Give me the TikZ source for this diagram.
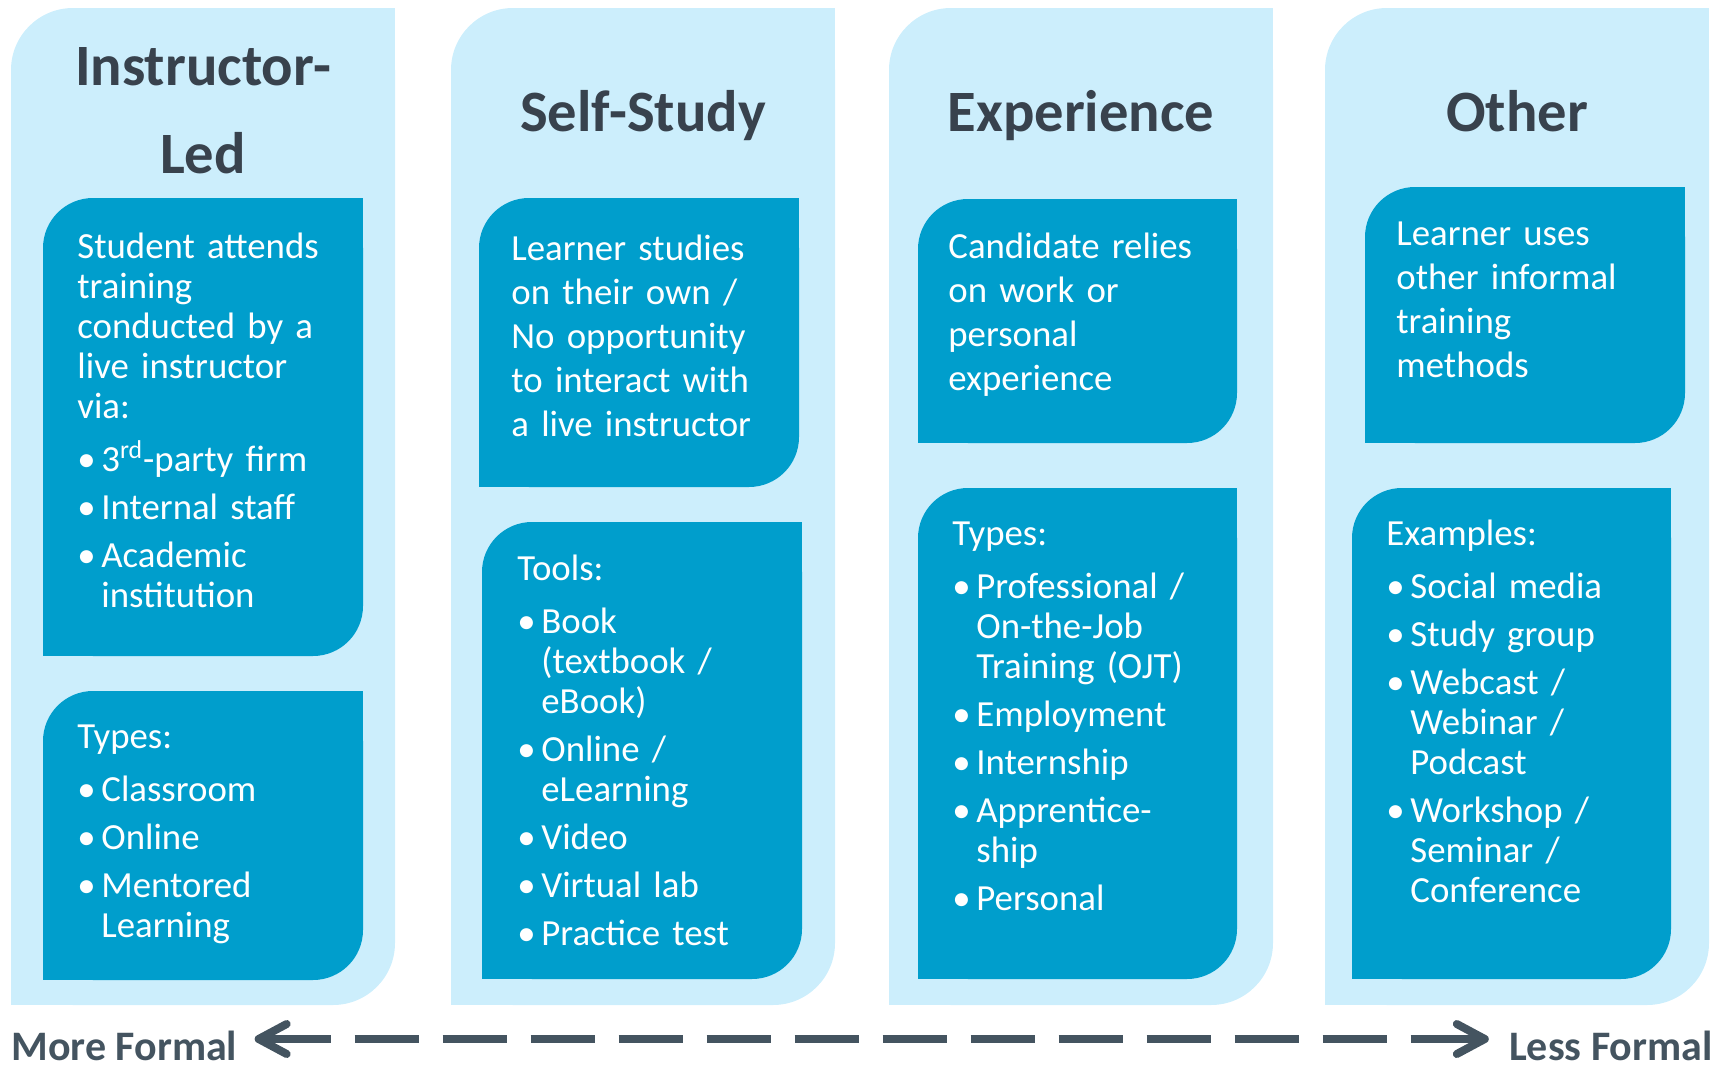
\documentclass[tikz,border=0pt]{standalone}
\usepackage{fontspec}
\setmainfont{Carlito}
\usetikzlibrary{arrows.meta, positioning}

\definecolor{paneltint}{RGB}{204,238,252}
\definecolor{tilefill}{RGB}{0,158,204}
\definecolor{headink}{RGB}{56,66,77}
\definecolor{scaleink}{RGB}{68,84,96}

% box with rounded top-left and bottom-right corners: fill, left, top, right, bottom, radius(px), radius(pt)
\newcommand{\leafbox}[7]{%
  \fill[#1, rounded corners=#7] (#2,#3) rectangle (#4,#5);
  \fill[#1] (#4-#6,#3) rectangle (#4,#3+#6);
  \fill[#1] (#2,#5-#6) rectangle (#2+#6,#5);
}
\newcommand{\bitem}[1]{\par\vspace{4pt}\hangindent=12pt\hangafter=1\noindent\makebox[12pt][l]{\textbullet}#1\par}

\begin{document}
\begin{tikzpicture}[
    x=0.5pt, y=-0.5pt,
    titletext/.style={text=headink, font=\fontsize{29.3}{44}\selectfont\bfseries, text width=192pt, align=center, inner sep=0pt, anchor=base},
    leadtext/.style={text=white, font=\fontsize{18.4}{22}\selectfont, text width=142pt, align=left, inner sep=0pt, anchor=base west},
    listtext/.style={leadtext, font=\fontsize{18.4}{20}\selectfont},
    endlabel/.style={text=scaleink, font=\fontsize{21}{25}\selectfont\bfseries, inner sep=0pt, text height=21pt, text depth=0pt},
    scaleflow/.style={{Straight Barb[length=14pt, width=15pt, round]}-{Straight Barb[length=14pt, width=15pt, round]},
      line width=4pt, draw=scaleink, shorten <=8.5pt, shorten >=10pt,
      dash pattern=on 34pt off 12pt on 32pt off 12pt on 32pt off 12pt on 32pt off 12pt on 32pt off 12pt
        on 32pt off 12pt on 32pt off 12pt on 32pt off 12pt on 32pt off 12pt on 32pt off 12pt
        on 32pt off 12pt on 32pt off 12pt on 32pt off 12pt on 60pt off 12pt}
]
    \useasboundingbox (0,0) rectangle (1720,1071);

    \foreach \px in {11,451,889,1325}
      \leafbox{paneltint}{\px}{8}{\px+384}{1005}{62}{31pt};

    \leafbox{tilefill}{43}{198}{363}{656}{50}{25pt}
    \leafbox{tilefill}{43}{691}{363}{980}{50}{25pt}
    \leafbox{tilefill}{479}{198}{799}{487}{50}{25pt}
    \leafbox{tilefill}{482}{522}{802}{979}{50}{25pt}
    \leafbox{tilefill}{918}{199}{1237}{443}{50}{25pt}
    \leafbox{tilefill}{918}{488}{1237}{979}{50}{25pt}
    \leafbox{tilefill}{1365}{187}{1685}{443}{50}{25pt}
    \leafbox{tilefill}{1352}{488}{1671}{979}{50}{25pt}

    \node[titletext] (HeadIL) at (203,85)  {Instructor-\\Led};
    \node[titletext] (HeadSS) at (643,131) {Self-Study};
    \node[titletext] (HeadEx) at (1081,131) {Experience};
    \node[titletext] (HeadOt) at (1517,131) {Other};

    \node[listtext] (DescIL) at (77,258) {Student attends\newline training\newline conducted by a\newline live instructor\newline via:\par\vspace{2.5pt}%
      \bitem{3\textsuperscript{rd}-party firm}\bitem{Internal staff}\bitem{Academic\newline institution}};
    \node[listtext] (TypesIL) at (77,748) {Types:\par\vspace{2.5pt}%
      \bitem{Classroom}\bitem{Online}\bitem{Mentored\newline Learning}};

    \node[leadtext] (DescSS) at (511,260) {Learner studies\newline on their own /\newline No opportunity\newline to interact with\newline a live instructor};
    \node[listtext] (ToolsSS) at (517,580) {Tools:\par\vspace{2.5pt}%
      \bitem{Book\newline (textbook /\newline eBook)}\bitem{Online /\newline eLearning}\bitem{Video}\bitem{Virtual lab}\bitem{Practice test}};

    \node[leadtext] (DescEx) at (948,258) {Candidate relies\newline on work or\newline personal\newline experience};
    \node[listtext] (TypesEx) at (952,545) {Types:\par\vspace{2.5pt}%
      \bitem{Professional /\newline On-the-Job\newline Training (OJT)}\bitem{Employment}\bitem{Internship}\bitem{Apprentice-\newline ship}\bitem{Personal}};

    \node[leadtext] (DescOt) at (1396,245) {Learner uses\newline other informal\newline training\newline methods};
    \node[listtext] (ExmplOt) at (1386,545) {Examples:\par\vspace{2.5pt}%
      \bitem{Social media}\bitem{Study group}\bitem{Webcast /\newline Webinar /\newline Podcast}\bitem{Workshop /\newline Seminar /\newline Conference}};

    % formality scale
    \node[endlabel, anchor=base west] (MoreF) at (11,1060)   {More Formal};
    \node[endlabel, anchor=base east] (LessF) at (1713,1060) {Less Formal};
    \draw[scaleflow] (MoreF.east) -- (LessF.west);

\end{tikzpicture}
\end{document}
